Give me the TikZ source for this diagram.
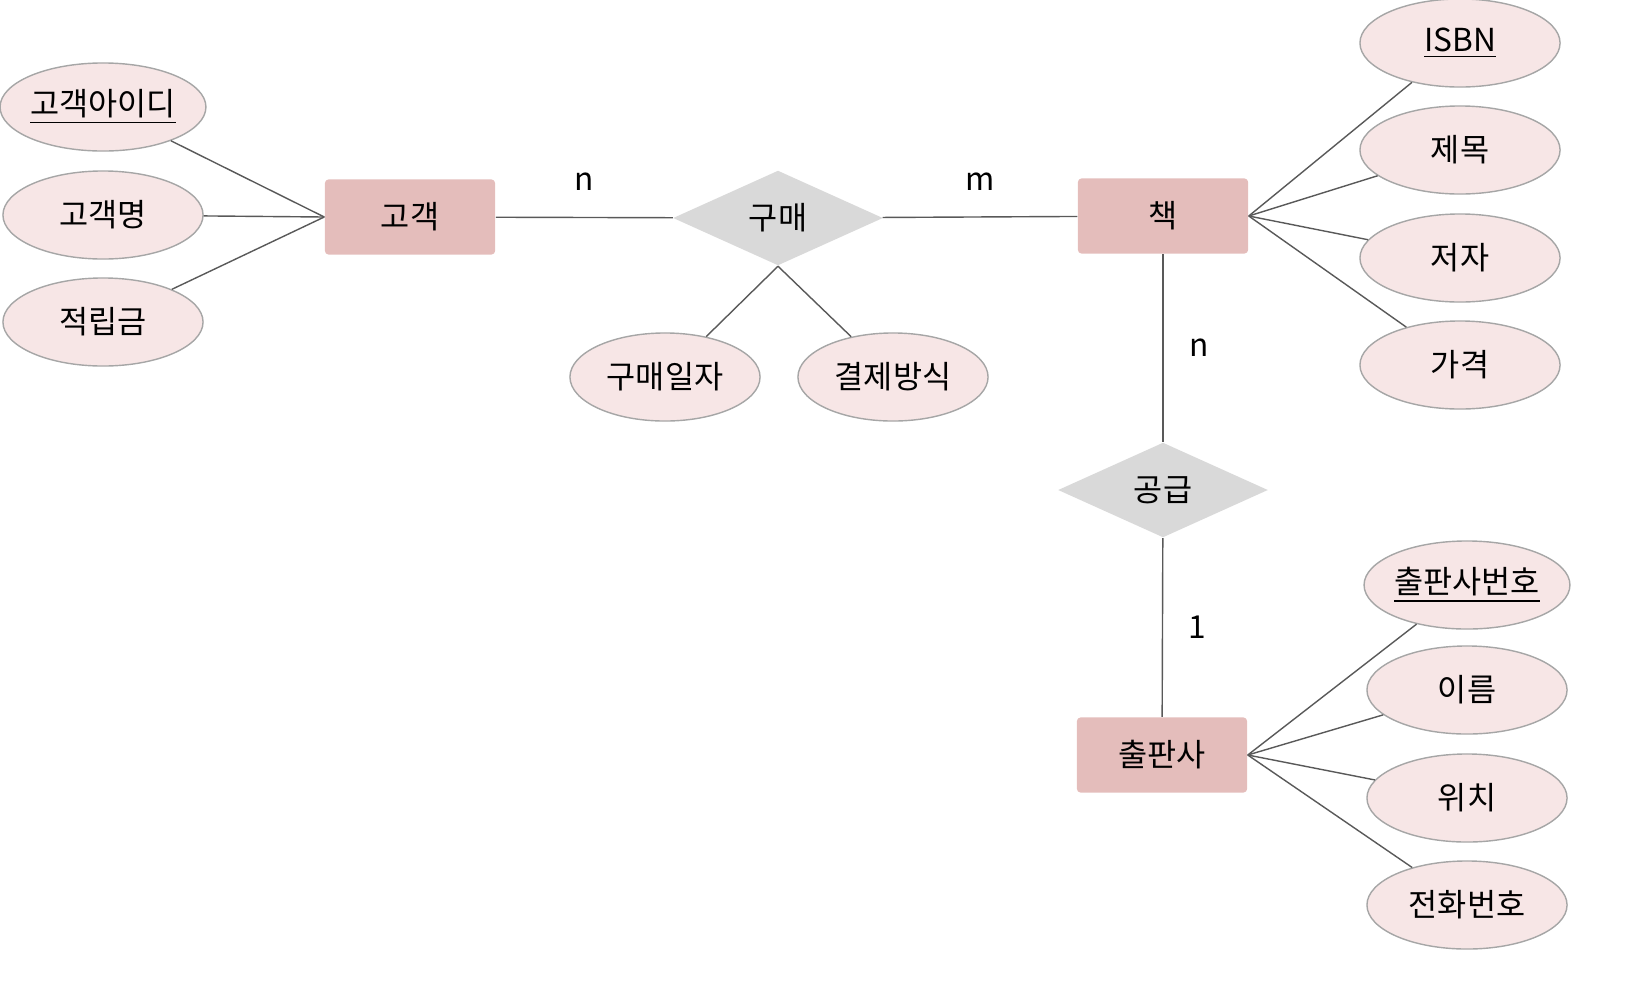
\documentclass[tikz,border=0pt]{standalone}
\usepackage{fontspec}
\setmainfont{Noto Sans CJK KR}
\usetikzlibrary{shapes.geometric}
\definecolor{entfill}{HTML}{E4BDBB}
\definecolor{attfill}{HTML}{F7E6E6}
\definecolor{relfill}{HTML}{D9D9D9}
\tikzset{
  entity/.style={rectangle,fill=entfill,minimum width=1.7cm,minimum height=0.75cm,rounded corners=1pt},
  attr/.style={ellipse,draw=gray!70,fill=attfill,minimum width=2cm,minimum height=0.88cm,inner xsep=0pt},
  rel/.style={diamond,fill=relfill,minimum width=2.1cm,minimum height=0.95cm,aspect=2.2,inner sep=0pt},
  link/.style={gray!70!black,thin}
}
\begin{document}
\begin{tikzpicture}[x=0.01cm,y=-0.01cm,font=\fontsize{9}{10}\selectfont]
  \useasboundingbox (0,0) rectangle (1633,987);

  % Entities
  \node[entity] (cust) at (410,217) {고객};
  \node[entity] (book) at (1163,216) {책};
  \node[entity] (pub) at (1162,755) {출판사};

  % Relationships
  \node[rel] (buy) at (778,218) {구매};
  \node[rel] (supply) at (1163,490) {공급};

  % Attributes of customer
  \node[attr] (custid) at (103,107) {\underline{고객아이디}};
  \node[attr] (custname) at (103,215) {고객명};
  \node[attr] (points) at (103,322) {적립금};

  % Attributes of purchase
  \node[attr,minimum width=1.9cm] (buydate) at (665,377) {구매일자};
  \node[attr,minimum width=1.9cm] (paymode) at (893,377) {결제방식};

  % Attributes of book
  \node[attr] (isbn) at (1460,43) {\underline{ISBN}};
  \node[attr] (title) at (1460,150) {제목};
  \node[attr] (author) at (1460,258) {저자};
  \node[attr] (price) at (1460,365) {가격};

  % Attributes of publisher
  \node[attr] (pubid) at (1467,585) {\underline{출판사번호}};
  \node[attr] (pubname) at (1467,690) {이름};
  \node[attr] (place) at (1467,798) {위치};
  \node[attr] (phone) at (1467,905) {전화번호};

  % Connectors
  \foreach \a in {custid,custname,points} \draw[link] (cust.west) -- (\a);
  \foreach \a in {isbn,title,author,price} \draw[link] (book.east) -- (\a);
  \foreach \a in {pubid,pubname,place,phone} \draw[link] (pub.east) -- (\a);
  \foreach \a in {buydate,paymode} \draw[link] (buy.south) -- (\a);
  \draw[link] (cust) -- node[above=4pt,black] {n} (buy);
  \draw[link] (buy) -- node[above=4pt,black] {m} (book);
  \draw[link] (book) -- node[right=4pt,black] {n} (supply);
  \draw[link] (supply) -- node[right=4pt,black] {1} (pub);
\end{tikzpicture}
\end{document}
